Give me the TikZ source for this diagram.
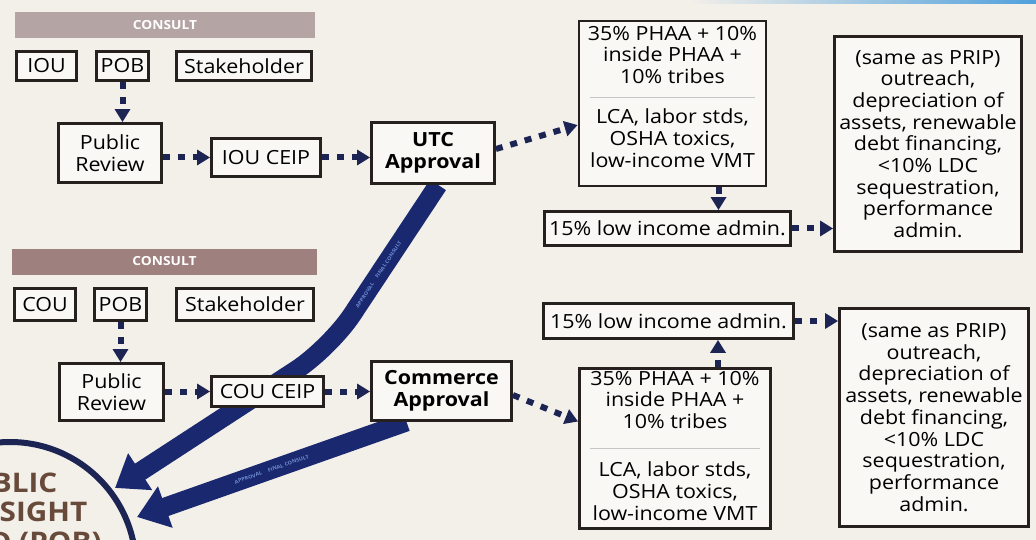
\documentclass[tikz,border=0pt]{standalone}
\usepackage{fontspec}
\setmainfont{Open Sans}[FakeStretch=1.1]
\usetikzlibrary{arrows.meta, positioning, backgrounds, calc}
\definecolor{navyline}{RGB}{28,36,84}
\definecolor{bandblue}{RGB}{26,40,112}
\definecolor{bandtext}{RGB}{110,140,210}
\definecolor{boxline}{RGB}{38,32,30}
\definecolor{boxfill}{RGB}{250,248,245}
\definecolor{paper}{RGB}{243,239,233}
\definecolor{barlight}{RGB}{180,164,164}
\definecolor{bardark}{RGB}{158,128,126}
\definecolor{boardbrown}{RGB}{104,74,58}
\definecolor{stripblue}{RGB}{80,160,220}

\begin{document}
\begin{tikzpicture}[x=1pt, y=-1pt,
  box/.style={draw=boxline, line width=2.8pt, fill=boxfill, align=center,
              font=\fontsize{19.5}{21.7}\selectfont, inner sep=0pt},
  boldbox/.style={box, font=\fontsize{19.5}{21.7}\selectfont\bfseries},
  bar/.style={fill=#1, text=white, font=\fontsize{12.5}{14}\selectfont\bfseries,
              minimum height=26pt, inner sep=0pt},
  txt/.style={align=center, font=\fontsize{19.5}{21.7}\selectfont, inner sep=0pt},
  divider/.style={gray!45, line width=0.8pt},
  arr/.style={-{Triangle[length=13pt,width=15pt]}, navyline, line width=6pt,
              dash pattern=on 7pt off 8pt},
  band/.style={-{Triangle[length=30pt,width=42pt]}, bandblue, line width=19pt},
  bandlabel/.style={sloped, text=bandtext, font=\fontsize{5}{6}\selectfont\bfseries, inner sep=0pt},
]
\useasboundingbox (0,0) rectangle (1036,540);
\clip (0,0) rectangle (1036,540);

% IOU consult block
\node[bar=barlight, minimum width=300pt] (consultA) at (165,25) {CONSULT};
\node[box, minimum width=60pt, minimum height=29pt]  (iou)    at (46.5,66) {IOU};
\node[box, minimum width=52pt, minimum height=29pt]  (pobA)   at (122.5,66) {POB};
\node[box, minimum width=135pt, minimum height=29pt] (stakeA) at (244,66) {Stakeholder};

% IOU chain
\node[box, minimum width=103pt, minimum height=59pt]     (reviewA) at (110,153) {Public\\Review};
\node[box, minimum width=109pt, minimum height=38pt]     (ceipA)   at (266,157.5) {IOU CEIP};
\node[boldbox, minimum width=123pt, minimum height=61pt] (utc)     at (433,153) {UTC\\Approval};

% IOU targets
\node[box, minimum width=187pt, minimum height=165pt] (tboxA) at (672.5,103.5) {};
\node[txt] (tboxAtop) at (672.5,55)  {35\% PHAA + 10\%\\inside PHAA +\\10\% tribes};
\node[txt] (tboxAbot) at (672.5,138) {LCA, labor stds,\\OSHA toxics,\\low-income VMT};
\draw[divider] ($(tboxA.west)+(12,-6.5)$) -- ($(tboxA.east)+(-12,-6.5)$);
\node[box, minimum width=246pt, minimum height=34pt] (adminA) at (667.5,228.5) {15\% low income admin.};
\node[box, minimum width=187pt, minimum height=215pt] (pripA) at (928,144)
  {(same as PRIP)\\outreach,\\depreciation of\\assets, renewable\\debt financing,\\<10\% LDC\\sequestration,\\performance\\admin.};

% COU consult block
\node[bar=bardark, minimum width=305pt] (consultB) at (164.5,261.5) {CONSULT};
\node[box, minimum width=61pt, minimum height=32pt]  (cou)    at (45,304.5) {COU};
\node[box, minimum width=52pt, minimum height=32pt]  (pobB)   at (120.5,304.5) {POB};
\node[box, minimum width=137pt, minimum height=32pt] (stakeB) at (245,304.5) {Stakeholder};

% COU chain
\node[box, minimum width=104pt, minimum height=57pt]     (reviewB)  at (111.5,392) {Public\\Review};
\node[box, minimum width=112pt, minimum height=30pt]     (ceipB)    at (267.5,391.5) {COU CEIP};
\node[boldbox, minimum width=140pt, minimum height=59pt] (commerce) at (441.5,391) {Commerce\\Approval};

% COU targets
\node[box, minimum width=250pt, minimum height=35pt] (adminB) at (668.5,321) {15\% low income admin.};
\node[box, minimum width=191pt, minimum height=160pt] (tboxB) at (675,448.5) {};
\node[txt] (tboxBtop) at (675,400) {35\% PHAA + 10\%\\inside PHAA +\\10\% tribes};
\node[txt] (tboxBbot) at (675,491) {LCA, labor stds,\\OSHA toxics,\\low-income VMT};
\draw[divider] ($(tboxB.west)+(12,-0.5)$) -- ($(tboxB.east)+(-12,-0.5)$);
\node[box, minimum width=189pt, minimum height=218pt] (pripB) at (934,417.5)
  {(same as PRIP)\\outreach,\\depreciation of\\assets, renewable\\debt financing,\\<10\% LDC\\sequestration,\\performance\\admin.};

% Oversight board
\node[circle, draw=navyline, line width=6pt, minimum size=252pt, inner sep=0pt] (board) at (10,568) {};
\node[align=center, text=boardbrown, font=\fontsize{27}{29.5}\selectfont\bfseries] (boardtext) at (4,514)
  {PUBLIC\\OVERSIGHT\\BOARD (POB)};
\coordinate (bendA) at (330,348);
\coordinate (tipA) at (115,488);
\coordinate (tipB) at (137,517);

% Dotted flow arrows
\draw[arr] (pobA.south) -- (pobA.south |- reviewA.north);
\draw[arr] (reviewA.east |- ceipA.west) -- (ceipA.west);
\draw[arr] (ceipA.east) -- (ceipA.east -| utc.west);
\draw[arr] ([yshift=4pt]utc.east) -- ([yshift=-21.5pt]tboxA.west);
\draw[arr] ([xshift=46pt]tboxA.south) -- ([xshift=46pt]tboxA.south |- adminA.north);
\draw[arr] (adminA.east) -- (adminA.east -| pripA.west);

\draw[arr] (pobB.south) -- (pobB.south |- reviewB.north);
\draw[arr] (reviewB.east |- ceipB.west) -- (ceipB.west);
\draw[arr] (ceipB.east) -- (ceipB.east -| commerce.west);
\draw[arr] ([yshift=-4pt]commerce.east) -- ([yshift=27pt]tboxB.west);
\draw[arr] ([xshift=43pt]tboxB.north) -- ([xshift=43pt]tboxB.north |- adminB.south);
\draw[arr] (adminB.east) -- (adminB.east -| pripB.west);

% Paper and approval bands
\begin{scope}[on background layer]
  \fill[paper] (0,0) rectangle (1036,540);
  \fill[left color=paper, right color=stripblue] (690,0) rectangle (1036,3.5);
  \draw[band, rounded corners=40pt] ([xshift=5pt]utc.south)
    -- node[bandlabel, pos=0.55]{APPROVAL \quad FINAL CONSULT} (bendA) -- (tipA);
  \draw[band] ([xshift=-35pt]commerce.south)
    -- node[bandlabel, pos=0.5]{APPROVAL \quad FINAL CONSULT} (tipB);
\end{scope}
\end{tikzpicture}
\end{document}
